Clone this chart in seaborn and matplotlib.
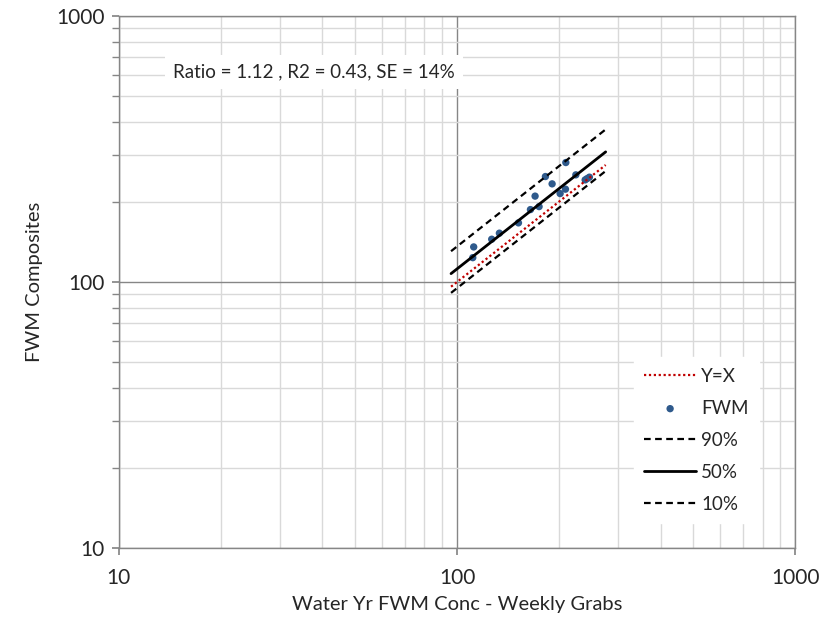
import numpy as np
import pandas as pd
import seaborn as sns
import matplotlib.pyplot as plt
from matplotlib.ticker import NullFormatter, FixedLocator

# Data
grab_conc = [111.3, 112.0, 126.6, 133.4, 151.9, 164.8, 170.1, 174.8, 182.5,
             191.0, 201.7, 209.2, 209.7, 224.5, 239.2, 242.4, 246.2]
composite_conc = [123.4, 135.4, 144.7, 152.5, 166.7, 187.0, 210.1, 191.9, 248.9,
                  233.6, 214.8, 223.1, 280.9, 252.5, 241.8, 244.5, 247.5]

line_x = [96, 275]
yx_line = [96, 275]
p90_line = [130.5, 374]
p50_line = [107.5, 308]
p10_line = [91, 261]

annotation = "Ratio = 1.12 , R2 = 0.43, SE = 14%"

sns.set_theme(style="white")
plt.rcParams['font.family'] = ['Lato', 'DejaVu Sans']

fig = plt.figure(figsize=(8.25, 6.28), dpi=100)
ax = fig.add_axes([0.144, 0.127, 0.82, 0.848])

pts = pd.DataFrame({"x": grab_conc, "y": composite_conc})

sns.lineplot(x=line_x, y=yx_line, color="#C00000", linestyle=(0, (1, 1.2)),
             linewidth=1.6, ax=ax, label="Y=X")
sns.scatterplot(data=pts, x="x", y="y", color="#2F5A8C", s=28, edgecolor="none",
                ax=ax, label="FWM")
sns.lineplot(x=line_x, y=p90_line, color="black", linestyle=(0, (3, 2)),
             linewidth=1.6, ax=ax, label="90%")
sns.lineplot(x=line_x, y=p50_line, color="black", linestyle="-",
             linewidth=2.0, ax=ax, label="50%")
sns.lineplot(x=line_x, y=p10_line, color="black", linestyle=(0, (3, 2)),
             linewidth=1.6, ax=ax, label="10%")

ax.set_xscale("log")
ax.set_yscale("log")
ax.set_xlim(10, 1000)
ax.set_ylim(10, 1000)

minor_vals = [m * d for d in (10, 100) for m in range(2, 10)]
ax.xaxis.set_major_locator(FixedLocator([10, 100, 1000]))
ax.yaxis.set_major_locator(FixedLocator([10, 100, 1000]))
ax.xaxis.set_minor_locator(FixedLocator(minor_vals))
ax.yaxis.set_minor_locator(FixedLocator(minor_vals))
ax.xaxis.set_minor_formatter(NullFormatter())
ax.yaxis.set_minor_formatter(NullFormatter())
ax.set_xticklabels(["10", "100", "1000"])
ax.set_yticklabels(["10", "100", "1000"])

ax.grid(which="minor", color="#D9D9D9", linewidth=1.0)
ax.grid(which="major", color="#868686", linewidth=1.0)
ax.set_axisbelow(True)

for side in ("left", "bottom", "top", "right"):
    ax.spines[side].set_color("#868686")
    ax.spines[side].set_linewidth(1.0)

ax.tick_params(axis="x", which="major", direction="out", length=5, color="#868686",
               labelsize=15, pad=9, bottom=True)
ax.tick_params(axis="x", which="minor", length=0)
ax.tick_params(axis="y", which="both", direction="out", length=5, color="#868686",
               labelsize=15, pad=5, left=True)

ax.set_xlabel("Water Yr FWM Conc - Weekly Grabs", fontsize=14.5, labelpad=6)
ax.set_ylabel("FWM Composites", fontsize=14.5, labelpad=10)

ax.text(0.288, 0.8945, annotation, transform=ax.transAxes, fontsize=13.5,
        ha="center", va="center",
        bbox=dict(facecolor="white", edgecolor="none", pad=6))

leg = ax.legend(loc="lower right", bbox_to_anchor=(0.96, 0.03), frameon=True,
                fontsize=13.5, handlelength=2.8, handletextpad=0.25,
                labelspacing=0.8, borderpad=0.55, fancybox=False)
leg.get_frame().set_edgecolor("white")
leg.get_frame().set_facecolor("white")
leg.get_frame().set_alpha(1)

fig.savefig("out.png", dpi=100)
